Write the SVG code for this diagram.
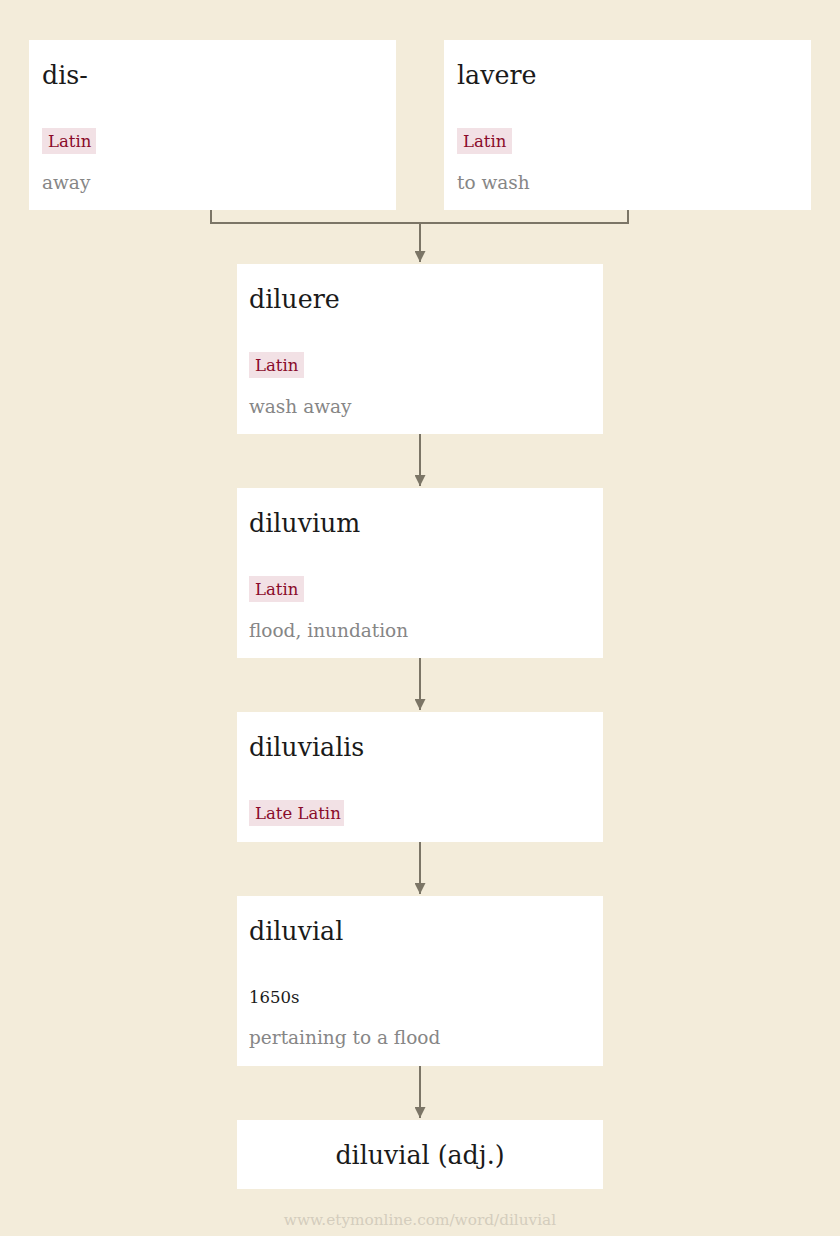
<svg xmlns="http://www.w3.org/2000/svg" width="840" height="1236" viewBox="0 0 840 1236">
<style>
.box{fill:#ffffff}
.t{font-family:"DejaVu Serif","Liberation Serif",serif;font-size:25.3px;fill:#1a1a1a}
.tag{fill:#f2e1e5}
.tt{font-family:"DejaVu Serif","Liberation Serif",serif;font-size:16.5px;fill:#8a0b2a}
.g{font-family:"DejaVu Serif","Liberation Serif",serif;font-size:18.5px;fill:#868686}
.d{font-family:"DejaVu Serif","Liberation Serif",serif;font-size:16.5px;fill:#1a1a1a}
.c{fill:none;stroke:#7b7566;stroke-width:2}
</style>
<defs>
<marker id="ah" viewBox="0 0 10 10" refX="10" refY="5" markerWidth="6" markerHeight="5.5" orient="auto" markerUnits="strokeWidth">
<path d="M0,0 L10,5 L0,10 z" fill="#7b7566"/>
</marker>
</defs>
<rect width="840" height="1236" fill="#f3ecda"/>
<g id="connectors">
<path class="c" d="M211,210 V223 H628 V210"/>
<path class="c" d="M420,223 V262" marker-end="url(#ah)"/>
<path class="c" d="M420,434 V486" marker-end="url(#ah)"/>
<path class="c" d="M420,658 V710" marker-end="url(#ah)"/>
<path class="c" d="M420,842 V894" marker-end="url(#ah)"/>
<path class="c" d="M420,1066 V1118" marker-end="url(#ah)"/>
</g>
<g id="dis">
<rect class="box" x="29" y="40" width="367" height="170"/>
<text class="t" x="42" y="84">dis-</text>
<rect class="tag" x="42" y="128" width="54" height="26"/>
<text class="tt" x="48" y="147">Latin</text>
<text class="g" x="42" y="189">away</text>
</g>
<g id="lavere">
<rect class="box" x="444" y="40" width="367" height="170"/>
<text class="t" x="457" y="84">lavere</text>
<rect class="tag" x="457" y="128" width="55" height="26"/>
<text class="tt" x="463" y="147">Latin</text>
<text class="g" x="457" y="189">to wash</text>
</g>
<g id="diluere">
<rect class="box" x="237" y="264" width="366" height="170"/>
<text class="t" x="249" y="308">diluere</text>
<rect class="tag" x="249" y="352" width="55" height="26"/>
<text class="tt" x="255" y="371">Latin</text>
<text class="g" x="249" y="413">wash away</text>
</g>
<g id="diluvium">
<rect class="box" x="237" y="488" width="366" height="170"/>
<text class="t" x="249" y="532">diluvium</text>
<rect class="tag" x="249" y="576" width="55" height="26"/>
<text class="tt" x="255" y="595">Latin</text>
<text class="g" x="249" y="637">flood, inundation</text>
</g>
<g id="diluvialis">
<rect class="box" x="237" y="712" width="366" height="130"/>
<text class="t" x="249" y="756">diluvialis</text>
<rect class="tag" x="249" y="800" width="95" height="26"/>
<text class="tt" x="255" y="819">Late Latin</text>
</g>
<g id="diluvial">
<rect class="box" x="237" y="896" width="366" height="170"/>
<text class="t" x="249" y="940">diluvial</text>
<text class="d" x="249" y="1003">1650s</text>
<text class="g" x="249" y="1044">pertaining to a flood</text>
</g>
<g id="diluvial-adj">
<rect class="box" x="237" y="1120" width="366" height="69"/>
<text class="t" x="420" y="1164" text-anchor="middle">diluvial (adj.)</text>
</g>
<text x="420" y="1225" text-anchor="middle" font-family="DejaVu Serif, Liberation Serif, serif" font-size="15.3" fill="#d4cdbd">www.etymonline.com/word/diluvial</text>
</svg>
